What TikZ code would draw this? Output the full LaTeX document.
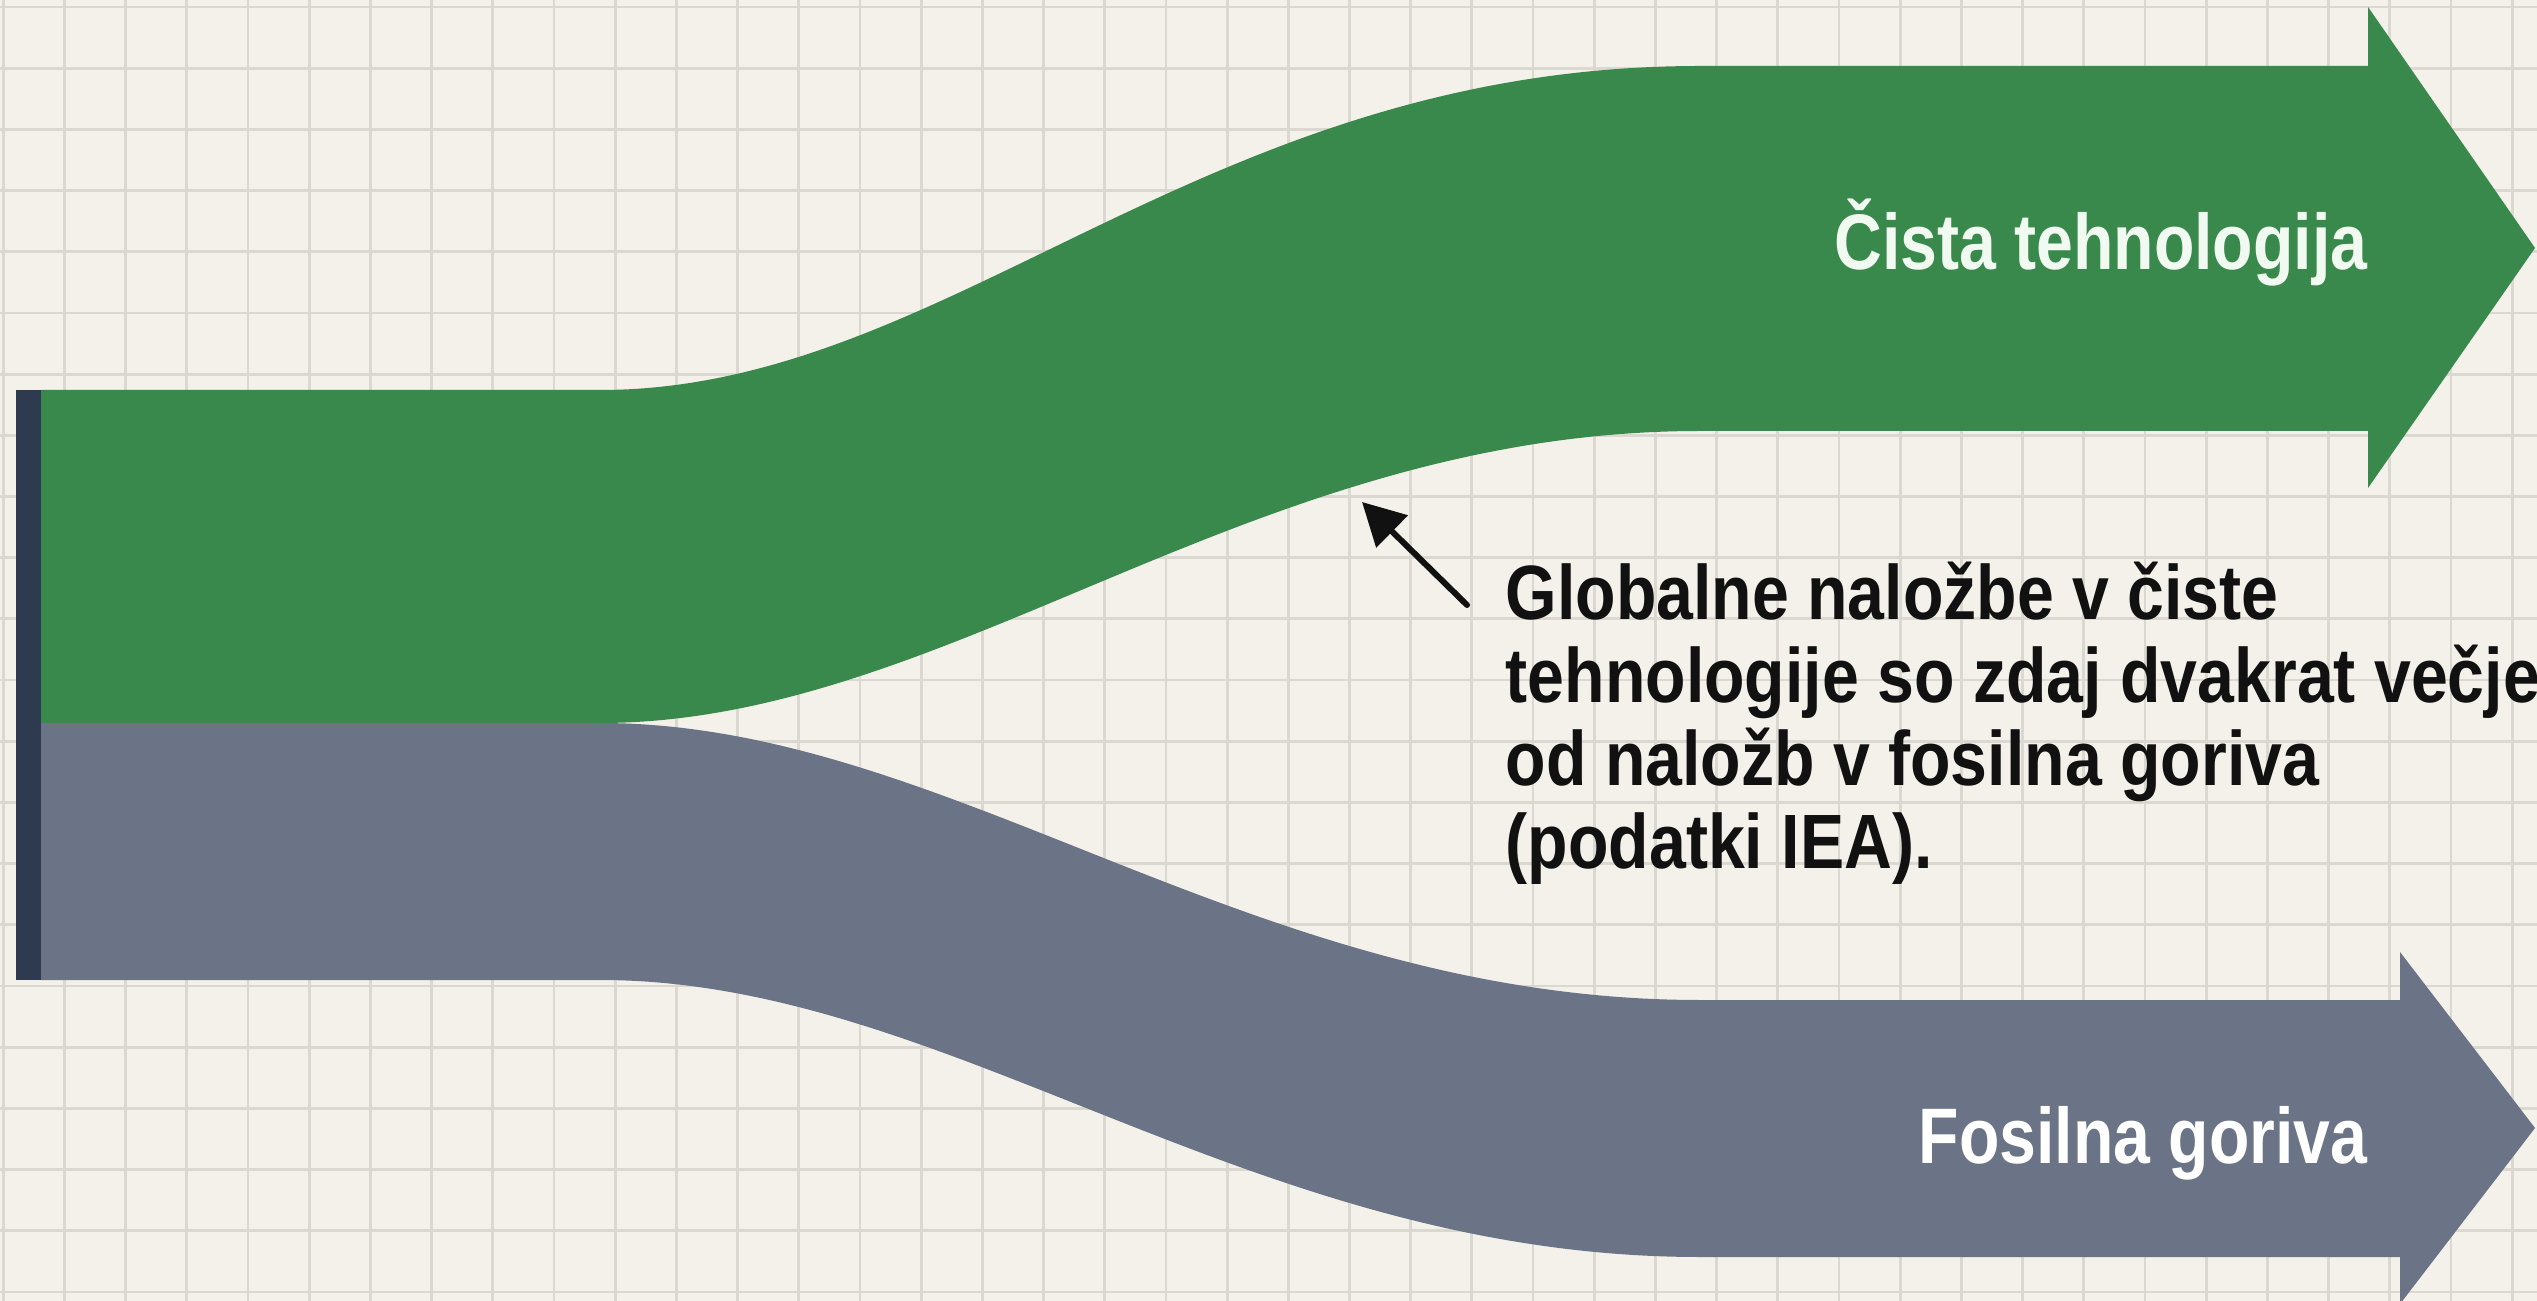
\documentclass[tikz,border=0pt]{standalone}
\usepackage{fontspec}
\setmainfont{Liberation Sans}
\newfontfamily\lblfont[FakeStretch=0.86]{Liberation Sans}
\newfontfamily\bandfont[FakeStretch=0.84]{Liberation Sans}
\usetikzlibrary{arrows.meta}
\definecolor{bg}{HTML}{F3F1EA}
\definecolor{gridc}{HTML}{DAD8D1}
\definecolor{greenb}{HTML}{3A894C}
\definecolor{grayb}{HTML}{6A7486}
\definecolor{barc}{HTML}{2E3A4F}
\definecolor{lblgreen}{HTML}{F1FAF1}
\definecolor{inkc}{HTML}{111111}
\tikzset{
  gridline/.style={gridc, line width=0.8pt},
  bandlabel/.style={font=\bandfont\bfseries\fontsize{22.4pt}{24pt}\selectfont, inner sep=0pt, anchor=base east},
  notetext/.style={font=\lblfont\bfseries\fontsize{21.9pt}{23.6pt}\selectfont, text=inkc, inner sep=0pt, anchor=base west},
  pointer/.style={inkc, line width=1.7pt, line cap=round, -{Triangle[length=12pt,width=12.5pt]}}
}
\begin{document}
\begin{tikzpicture}[x=0.01cm,y=-0.01cm]
\useasboundingbox (0,0) rectangle (2537,1301);
\clip (0,0) rectangle (2537,1301);
\fill[bg] (0,0) rectangle (2537,1301);
\foreach \i in {0,...,41} \draw[gridline] ({3.3+61.19*\i},0) -- ({3.3+61.19*\i},1301);
\foreach \i in {0,...,21} \draw[gridline] (0,{7+61.19*\i}) -- (2537,{7+61.19*\i});
% green flow
\fill[greenb] (41,390) -- (600,390) .. controls (950,390) and (1200,66) .. (1700,66)
  -- (2368,66) -- (2368,7) -- (2535,248) -- (2368,488) -- (2368,431) -- (1700,431)
  .. controls (1250,431) and (950,723) .. (600,723) -- (41,723) -- cycle;
% gray flow
\fill[grayb] (41,723) -- (600,723) .. controls (950,723) and (1250,1000) .. (1700,1000)
  -- (2400,1000) -- (2400,952) -- (2535,1128) -- (2400,1304) -- (2400,1257) -- (1700,1257)
  .. controls (1250,1257) and (950,980) .. (600,980) -- (41,980) -- cycle;
% source bar
\fill[barc] (16,390) rectangle (41,980);
% labels
\node[bandlabel, text=lblgreen] (cista) at (2368,270) {Čista tehnologija};
\node[bandlabel, text=white] (fosil) at (2368,1163) {Fosilna goriva};
\node[notetext] (note) at (1505,620) {\vtop{\hbox{Globalne naložbe v čiste}\hbox{tehnologije so zdaj dvakrat večje}\hbox{od naložb v fosilna goriva}\hbox{(podatki IEA).}}};
\coordinate (tail) at (1467,605);
\coordinate (tip) at (1362,502);
\draw[pointer] (tail) -- (tip);
\end{tikzpicture}
\end{document}
